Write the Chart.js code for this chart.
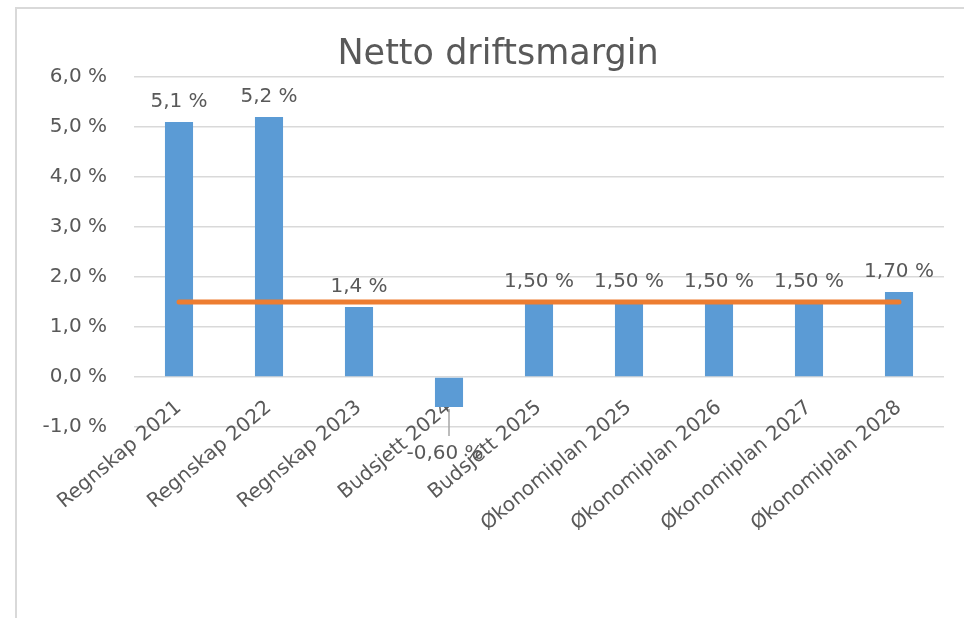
<!DOCTYPE html>
<html>
<head>
<meta charset="utf-8">
<script src="https://cdn.jsdelivr.net/npm/chart.js@4.4.1/dist/chart.umd.min.js"></script>
<style>
  html, body { margin: 0; padding: 0; background: #fff; }
  #wrap { position: relative; width: 964px; height: 618px; overflow: hidden; }
  #frame { position: absolute; left: 15px; top: 7px; width: 1000px; height: 700px;
           border-top: 2px solid #d9d9d9; border-left: 2px solid #d9d9d9; }
  #c { position: absolute; left: 16px; top: 0; }
</style>
</head>
<body>
<div id="wrap">
  <div id="frame"></div>
  <canvas id="c" width="964" height="618"></canvas>
</div>
<script>
const categories = ["Regnskap 2021", "Regnskap 2022", "Regnskap 2023", "Budsjett 2024", "Budsjett 2025",
                    "Økonomiplan 2025", "Økonomiplan 2026", "Økonomiplan 2027", "Økonomiplan 2028"];
const marginValues = [5.1, 5.2, 1.4, -0.6, 1.5, 1.5, 1.5, 1.5, 1.7];
const marginLabels = ["5,1 %", "5,2 %", "1,4 %", "-0,60 %", "1,50 %", "1,50 %", "1,50 %", "1,50 %", "1,70 %"];
const targetValues = [1.5, 1.5, 1.5, 1.5, 1.5, 1.5, 1.5, 1.5, 1.5];
const titleText = "Netto driftsmargin";

const FONT = "'DejaVu Sans', sans-serif";
const GRAY = "#595959";

const labelPlugin = {
  id: 'barLabels',
  afterDatasetsDraw(chart) {
    const ctx = chart.ctx;
    const meta = chart.getDatasetMeta(0);
    const y = chart.scales.y;
    ctx.save();
    ctx.font = "20px " + FONT;
    ctx.fillStyle = GRAY;
    ctx.textAlign = 'center';
    meta.data.forEach((bar, i) => {
      const v = marginValues[i];
      const py = y.getPixelForValue(v);
      if (v >= 0) {
        ctx.textBaseline = 'bottom';
        ctx.fillText(marginLabels[i], bar.x, py - 10);
      } else {
        ctx.strokeStyle = "#a6a6a6";
        ctx.lineWidth = 1.5;
        ctx.beginPath();
        ctx.moveTo(bar.x, py + 2);
        ctx.lineTo(bar.x, py + 29);
        ctx.stroke();
        ctx.textBaseline = 'middle';
        ctx.fillText(marginLabels[i], bar.x - 4, py + 47);
      }
    });
    ctx.restore();
  }
};

new Chart(document.getElementById('c'), {
  data: {
    labels: categories,
    datasets: [
      {
        type: 'bar',
        data: marginValues,
        backgroundColor: '#5B9BD5',
        categoryPercentage: 0.8,
        barPercentage: 0.39,
        yAxisID: 'y',
        order: 2
      },
      {
        type: 'line',
        data: targetValues,
        borderColor: '#ED7D31',
        borderWidth: 5,
        borderCapStyle: 'round',
        pointRadius: 0,
        fill: false,
        yAxisID: 'y',
        order: 1
      }
    ]
  },
  options: {
    responsive: false,
    animation: false,
    layout: { padding: { left: 0, right: 0, top: 0, bottom: 191 } },
    plugins: {
      legend: { display: false },
      tooltip: { enabled: false },
      title: {
        display: true,
        text: titleText,
        color: GRAY,
        font: { family: FONT, size: 35, weight: 'normal' },
        padding: { top: 34, bottom: 1 }
      }
    },
    scales: {
      x: {
        position: { y: 0 },
        z: 1,
        grid: { display: false, drawTicks: false },
        border: { display: false },
        ticks: {
          color: GRAY,
          font: { family: FONT, size: 20 },
          minRotation: 40,
          maxRotation: 40,
          autoSkip: false,
          padding: 19
        }
      },
      y: {
        position: 'left',
        min: -1,
        max: 6,
        grid: { color: '#d9d9d9', lineWidth: 1.5, drawTicks: false },
        border: { display: false },
        ticks: {
          stepSize: 1,
          color: GRAY,
          font: { family: FONT, size: 20 },
          padding: 27,
          callback: v => v.toFixed(1).replace('.', ',') + ' %'
        },
        afterFit(s) { s.width = 118; }
      },
      yRight: {
        position: 'right',
        display: true,
        grid: { display: false, drawOnChartArea: false, drawTicks: false },
        border: { display: false },
        ticks: { display: false },
        afterFit(s) { s.width = 36; }
      }
    }
  },
  plugins: [labelPlugin]
});
</script>
</body>
</html>
